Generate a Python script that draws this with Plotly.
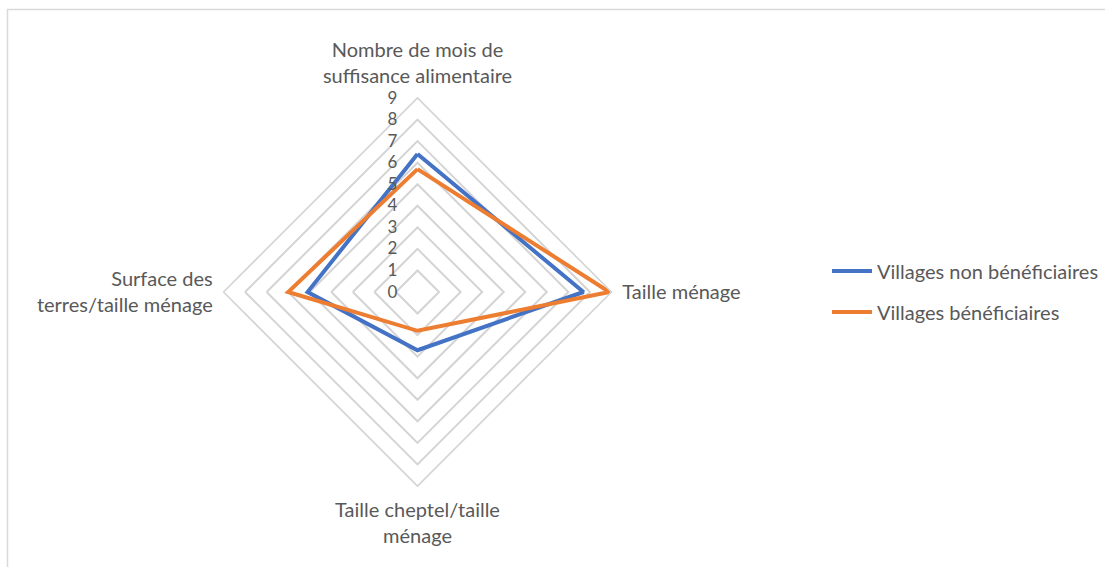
import plotly.graph_objects as go

categories = [
    "Nombre de mois de<br>suffisance alimentaire",
    "Taille ménage",
    "Taille cheptel/taille<br>ménage",
    "Surface des<br>terres/taille ménage",
]
series_names = ["Villages non bénéficiaires", "Villages bénéficiaires"]
non_beneficiaires = [6.4, 7.7, 2.7, 5.1]
beneficiaires = [5.7, 8.9, 1.8, 6.0]
radial_ticks = [0, 1, 2, 3, 4, 5, 6, 7, 8, 9]
colors = ["#4472C4", "#ED7D31"]

W, H = 1105, 567
cx, cy, R = 417.5, 292, 194

fig = go.Figure()
for i, (name, vals, col) in enumerate(zip(series_names, [non_beneficiaires, beneficiaires], colors)):
    fig.add_trace(go.Scatterpolar(
        r=vals + vals[:1],
        theta=categories + categories[:1],
        mode="lines",
        name=name,
        legendgroup=f"g{i}",
        line=dict(color=col, width=4),
    ))

font_fam = "Lato, Open Sans, sans-serif"
fig.update_layout(
    width=W, height=H,
    margin=dict(l=0, r=0, t=0, b=0),
    paper_bgcolor="white",
    plot_bgcolor="white",
    font=dict(family=font_fam, color="#595959", size=20),
    polar=dict(
        domain=dict(x=[(cx - R) / W, (cx + R) / W],
                    y=[(H - cy - R) / H, (H - cy + R) / H]),
        gridshape="linear",
        bgcolor="white",
        radialaxis=dict(
            range=[0, 9], tickvals=radial_ticks,
            ticktext=[str(v) + "\u2002\u2002" for v in radial_ticks],
            angle=90, tickangle=90, side="counterclockwise",
            showline=False, ticks="",
            gridcolor="#D4D4D4", gridwidth=1.6,
            tickfont=dict(size=17, color="#595959"),
        ),
        angularaxis=dict(
            direction="clockwise", rotation=90,
            showgrid=False, showline=True, linecolor="#D4D4D4", linewidth=1.6,
            ticks="outside", ticklen=6, tickcolor="rgba(0,0,0,0)",
            tickfont=dict(size=20, color="#595959"),
        ),
    ),
    legend=dict(
        x=827 / W, y=1 - 291.5 / H, xanchor="left", yanchor="middle",
        font=dict(size=20, color="#595959"),
        tracegroupgap=12,
        itemwidth=40,
    ),
    shapes=[dict(type="rect", xref="paper", yref="paper",
                 x0=7.5 / W, x1=1.02, y0=-0.02, y1=1 - 9.5 / H,
                 line=dict(color="#D9D9D9", width=1.5), fillcolor="rgba(0,0,0,0)")],
)

fig.write_html(
    "out.html",
    config={"displayModeBar": False},
    post_script="document.body.style.margin='0';document.body.style.overflow='hidden';",
)
